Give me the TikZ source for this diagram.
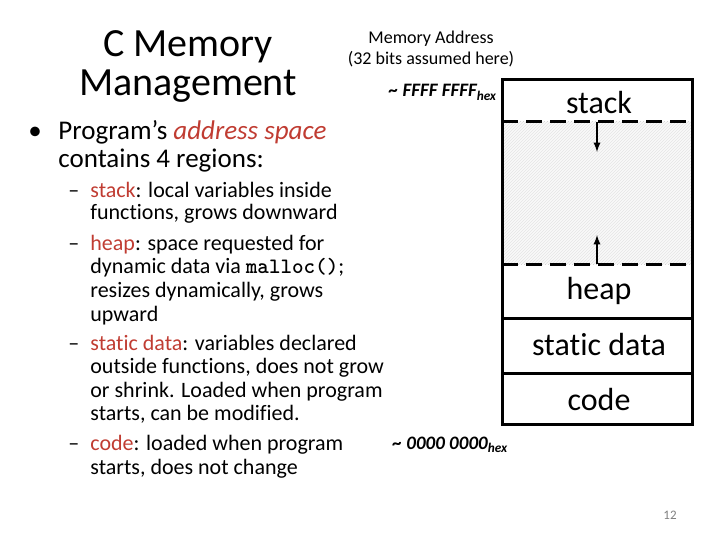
\documentclass[tikz,border=0pt]{standalone}
\usepackage{fontspec}
\setmainfont[Ligatures=NoCommon]{Carlito}
\usetikzlibrary{patterns}
\definecolor{hl}{RGB}{192,60,50}

\begin{document}
\begin{tikzpicture}[x=1pt, y=-1pt, thick,
    txt/.style = {anchor=base west, inner sep=0pt, font=\fontsize{22}{24}\selectfont},
    lbl/.style = {inner sep=0pt, font=\fontsize{32}{34}\selectfont}]
    \useasboundingbox (0,0) rectangle (720,540);
    % title and address notes
    \node[inner sep=0pt, font=\fontsize{40}{39}\selectfont, align=center] (title) at (188,66) {C Memory\\Management};
    \node[inner sep=0pt, font=\fontsize{18}{21}\selectfont, align=center] (note) at (431,49) {Memory Address\\(32 bits assumed here)};
    \node[anchor=base east, inner sep=0pt, font=\bfseries\itshape\fontsize{19}{20}\selectfont] (top) at (497,97) {\textasciitilde{} FFFF FFFF\textsubscript{hex}};
    \node[anchor=base east, inner sep=0pt, font=\bfseries\itshape\fontsize{19}{20}\selectfont] (bot) at (508,449) {\textasciitilde{} 0000 0000\textsubscript{hex}};
    % bullets
    \node[txt, font=\fontsize{27}{28}\selectfont] (b0) at (28,140) {\textbullet};
    \node[txt, font=\fontsize{27}{28}\selectfont] (b1) at (58,140) {Program’s \textcolor{hl}{\itshape address space}};
    \node[txt, font=\fontsize{27}{28}\selectfont] (b2) at (58,168) {contains 4 regions:};
    \foreach \y in {197,250,350,450} \node[txt] at (68,\y) {–};
    \node[txt] (s1) at (90,197) {\textcolor{hl}{stack}: local variables inside};
    \node[txt] (s2) at (90,220) {functions, grows downward};
    \node[txt] (h1) at (90,250) {\textcolor{hl}{heap}: space requested for};
    \node[txt] (h2) at (90,273) {dynamic data via \texttt{\bfseries malloc()};};
    \node[txt] (h3) at (90,297) {resizes dynamically, grows};
    \node[txt] (h4) at (90,321) {upward};
    \node[txt] (d1) at (90,350) {\textcolor{hl}{static data}: variables declared};
    \node[txt] (d2) at (90,373) {outside functions, does not grow};
    \node[txt] (d3) at (90,397) {or shrink. Loaded when program};
    \node[txt] (d4) at (90,420) {starts, can be modified.};
    \node[txt] (c1) at (90,450) {\textcolor{hl}{code}: loaded when program};
    \node[txt] (c2) at (90,474) {starts, does not change};
    \node[inner sep=0pt, font=\fontsize{13}{14}\selectfont, text=gray] (page) at (670,515) {12};
    % memory box
    \fill[pattern=north east lines, pattern color=black!20] (502,122) rectangle (692,264);
    \fill[black!4, opacity=0.6] (502,122) rectangle (692,264);
    \draw[line width=3pt] (502,80) rectangle (692,424);
    \draw[line width=3pt, dash pattern=on 16pt off 8pt] (502,122) -- (692,122);
    \draw[line width=3pt, dash pattern=on 16pt off 8pt] (502,264) -- (692,264);
    \draw[line width=3pt] (502,318) -- (692,318);
    \draw[line width=3pt] (502,373) -- (692,373);
    \node[lbl] (stack) at (599,103) {stack};
    \node[lbl] (heap) at (599,291) {heap};
    \node[lbl] (static) at (599,345) {static data};
    \node[lbl] (code) at (599,399) {code};
    \coordinate (sd) at (597,152);
    \coordinate (hu) at (597,235);
    \draw[line width=2.2pt, -latex] (597,122) -- (sd);
    \draw[line width=2.2pt, -latex] (597,264) -- (hu);
\end{tikzpicture}
\end{document}
